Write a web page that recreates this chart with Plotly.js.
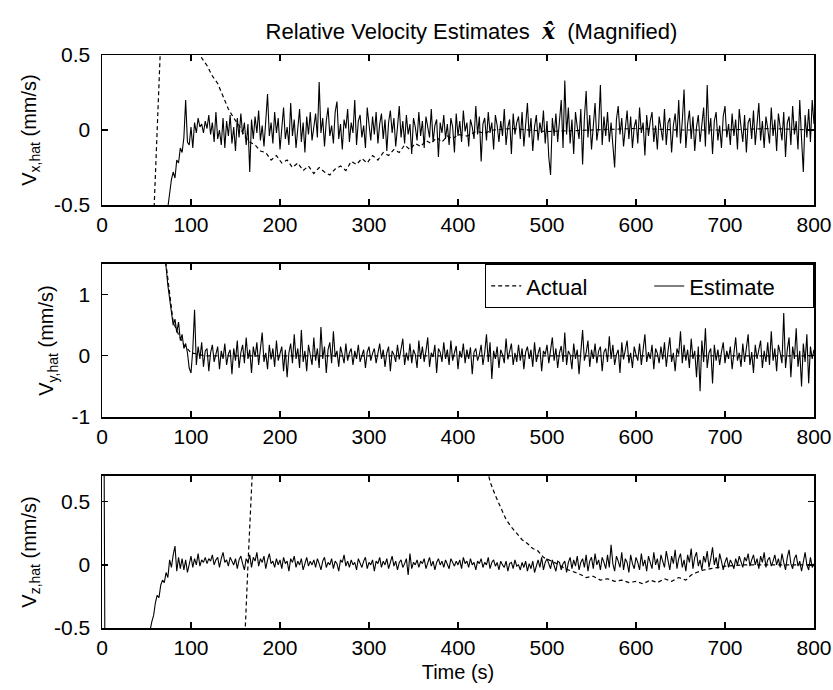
<!DOCTYPE html>
<html>
<head>
<meta charset="utf-8">
<script src="https://cdn.plot.ly/plotly-3.0.1.min.js"></script>
<style>html,body{margin:0;padding:0;background:#fff;}#chart{width:833px;height:690px;}</style>
</head>
<body>
<div id="chart"></div>
<script>
// ---------- data ----------
const timeTicks = [0, 100, 200, 300, 400, 500, 600, 700, 800];
const sampleStep = 2; // seconds between estimate samples

// Panel 1: V_x,hat
const actXTime = [0,40,56,58,60,62,64,66,70,90,108,112,118,124,130,136,142,148,154,160,166,172,178,184,190,196,202,208,214,220,226,232,238,244,250,256,262,268,274,280,286,292,298,304,310,316,322,328,334,340,346,352,358,364,370,376,382,388,394,400,410,420,430,440,460,500,550,600,650,700,750,800];
const actX = [-3,-2,-1.2,-0.6,-0.3,0.0,0.35,0.6,1.0,1.2,0.6,0.48,0.43,0.36,0.31,0.22,0.14,0.08,0.03,-0.04,-0.08,-0.1,-0.14,-0.15,-0.2,-0.17,-0.22,-0.2,-0.25,-0.22,-0.27,-0.24,-0.29,-0.25,-0.28,-0.3,-0.26,-0.24,-0.27,-0.21,-0.23,-0.19,-0.22,-0.17,-0.2,-0.15,-0.17,-0.13,-0.15,-0.1,-0.13,-0.09,-0.11,-0.07,-0.09,-0.05,-0.08,-0.04,-0.06,-0.03,-0.04,-0.01,-0.02,0.0,0.01,-0.01,0.0,0.01,0.0,0.0,0.01,0.0];
const estXStart = 70;
const estX = [
-0.70,-0.60,-0.52,-0.42,-0.33,-0.28,-0.32,-0.20,-0.22,-0.12,-0.15,-0.05,0.20,-0.08,-0.10,0.02,-0.12,0.05,-0.02,0.08,
0.02,0.04,-0.02,0.06,0.01,0.10,-0.03,0.05,-0.08,0.12,-0.06,0.00,-0.10,0.08,-0.12,0.06,-0.04,0.10,-0.09,0.02,
-0.14,0.08,-0.05,0.11,-0.03,0.05,-0.10,0.04,-0.28,0.07,-0.06,0.09,-0.02,0.13,-0.07,0.03,-0.11,0.06,0.24,-0.04,
0.05,-0.09,0.12,-0.02,0.08,-0.13,0.04,0.15,-0.06,0.02,-0.10,0.18,-0.04,0.07,-0.12,0.01,0.14,-0.08,0.05,-0.15,
0.09,-0.03,0.12,-0.07,0.04,0.11,-0.05,0.32,-0.02,0.08,-0.11,0.06,0.15,-0.04,0.03,-0.09,0.12,0.19,-0.06,0.04,
-0.13,0.07,0.01,0.14,-0.08,0.05,-0.02,0.20,-0.10,0.06,0.10,-0.05,0.03,-0.12,0.15,0.02,-0.07,0.09,-0.03,0.12,
-0.09,0.04,0.11,-0.06,0.07,-0.14,0.05,0.13,-0.02,0.08,-0.11,0.02,0.16,-0.05,0.06,-0.09,0.10,-0.03,0.04,-0.16,
0.08,0.02,-0.07,0.12,-0.04,0.06,-0.12,0.09,0.01,-0.05,0.14,-0.08,0.03,0.07,-0.18,0.05,-0.02,0.10,-0.06,0.04,
-0.10,0.08,0.02,-0.15,0.11,-0.04,0.06,-0.08,0.13,-0.01,0.05,-0.11,0.07,0.02,-0.06,0.16,-0.03,0.09,-0.21,0.04,
0.08,-0.07,0.12,-0.02,0.05,-0.13,0.10,0.03,-0.08,0.06,-0.04,0.14,-0.10,0.02,0.07,-0.16,0.11,-0.03,0.05,0.09,
-0.06,0.12,-0.11,0.04,0.18,-0.05,0.08,-0.14,0.02,0.10,-0.07,0.05,-0.02,0.13,-0.09,0.06,-0.18,-0.30,0.08,-0.04,
0.11,-0.08,0.05,0.20,-0.12,0.33,-0.03,0.15,-0.09,0.07,-0.16,0.12,0.02,-0.06,0.14,-0.23,0.08,0.26,-0.05,0.10,
-0.13,0.06,0.18,-0.07,0.02,0.30,-0.10,0.09,-0.04,0.12,-0.08,0.05,-0.14,-0.25,0.07,0.16,-0.03,0.08,-0.11,0.04,
0.13,-0.06,0.09,-0.12,0.02,0.07,-0.09,0.15,-0.02,0.05,-0.17,0.10,-0.04,0.06,0.12,-0.08,0.03,-0.13,0.09,0.01,
-0.07,0.14,-0.10,0.05,0.08,-0.15,0.03,0.11,-0.05,0.20,-0.09,0.06,0.27,-0.12,0.04,0.13,-0.06,0.09,-0.14,0.02,
0.10,-0.08,0.05,0.15,-0.11,0.30,-0.03,0.08,-0.16,0.06,0.12,-0.07,0.03,-0.12,0.09,0.16,-0.05,0.04,-0.10,0.11,
-0.04,0.07,-0.13,0.14,0.02,-0.08,0.10,-0.15,0.05,0.08,-0.06,0.13,-0.10,0.03,0.18,-0.07,0.06,-0.12,0.09,0.01,
-0.09,0.15,-0.04,0.07,-0.14,0.11,0.02,-0.07,0.12,-0.18,0.05,0.09,-0.10,0.16,-0.03,0.06,-0.13,0.20,-0.06,-0.28,
0.10,-0.05,0.14,-0.08,0.20,0.04];

// Panel 2: V_y,hat
const actYTime = [0,50,66,72,76,80,86,92,100,115,130,150,200,300,400,500,600,700,800];
const actY = [4,3,2.2,1.45,1.0,0.55,0.35,0.18,0.05,0.0,0.0,0.0,0.0,0.0,0.0,0.0,0.0,0.0,0.0];
const estYStart = 68;
const estY = [
1.90,1.70,1.45,1.15,0.95,0.75,0.50,0.60,0.38,0.55,0.25,0.35,0.12,0.20,0.05,-0.20,-0.28,0.10,0.75,-0.15,
0.15,-0.05,0.22,-0.18,0.08,0.12,-0.25,0.05,0.18,-0.10,0.02,0.15,-0.22,0.08,-0.05,0.20,-0.15,0.03,0.10,-0.30,
0.12,-0.08,0.25,-0.20,0.05,0.18,-0.12,0.30,-0.05,0.10,-0.28,0.15,-0.02,0.22,-0.15,0.08,0.38,-0.10,0.05,-0.22,
0.18,-0.06,0.12,-0.18,0.25,-0.08,0.02,0.15,-0.25,0.10,-0.35,0.05,0.20,-0.12,0.35,-0.05,0.12,-0.20,0.42,-0.10,
0.08,-0.25,0.18,0.02,-0.15,0.30,-0.08,0.12,-0.20,0.47,-0.05,0.15,-0.28,0.10,0.22,-0.12,0.40,-0.02,0.08,-0.18,
0.15,0.02,-0.12,0.20,-0.08,0.05,0.12,-0.15,0.08,-0.05,0.18,-0.10,0.02,0.10,-0.20,0.06,0.15,-0.08,0.04,0.12,
-0.12,0.08,0.20,-0.05,0.10,-0.18,0.05,0.15,-0.25,0.08,0.02,-0.10,0.18,-0.06,0.12,0.28,-0.15,0.05,-0.08,0.20,
-0.12,0.10,0.02,-0.20,0.25,-0.05,0.15,-0.10,0.08,0.30,-0.18,0.05,-0.02,0.18,-0.28,0.12,0.06,-0.10,0.22,-0.05,
0.10,-0.15,0.25,-0.08,0.05,0.16,-0.22,0.08,-0.03,0.20,-0.12,0.10,-0.05,0.14,-0.30,0.06,0.12,-0.08,0.02,0.18,
-0.15,0.05,0.35,-0.10,0.22,-0.38,0.08,-0.05,0.15,-0.20,0.10,0.02,-0.12,0.28,-0.06,0.08,0.20,-0.15,0.05,-0.10,
0.18,-0.08,0.12,-0.22,0.06,0.15,-0.05,0.10,-0.18,0.22,-0.10,0.04,0.14,-0.25,0.08,0.02,0.18,-0.12,0.06,0.30,
-0.08,0.12,-0.20,0.05,0.16,-0.10,0.38,-0.15,0.08,0.02,-0.22,0.20,-0.05,0.10,-0.30,0.15,0.42,-0.08,0.05,0.25,
-0.18,0.10,-0.05,0.20,-0.12,0.08,0.15,-0.25,0.06,0.12,-0.10,0.32,-0.05,0.18,-0.15,0.02,0.10,-0.28,0.22,-0.06,
0.08,0.25,-0.12,0.05,-0.20,0.15,0.02,-0.08,0.20,-0.15,0.10,0.35,-0.10,0.06,-0.05,0.18,-0.22,0.12,0.04,-0.12,
0.15,-0.06,0.22,-0.18,0.08,0.30,-0.10,0.05,-0.25,0.12,0.02,0.40,-0.12,0.18,-0.08,0.10,-0.20,0.28,-0.05,0.08,
-0.35,0.15,-0.58,0.25,-0.10,0.45,-0.20,0.05,0.12,-0.45,0.18,-0.08,0.10,-0.15,0.06,0.22,-0.12,0.08,-0.05,0.15,
-0.22,0.10,0.30,-0.08,0.05,-0.18,0.20,-0.10,0.12,0.35,-0.15,0.06,-0.28,0.18,-0.05,0.10,0.25,-0.20,0.08,-0.10,
0.22,-0.15,0.40,-0.08,0.12,-0.25,0.18,0.05,-0.12,0.70,-0.20,0.10,0.30,-0.35,0.15,-0.05,0.45,-0.18,0.08,-0.50,
0.20,-0.10,0.35,-0.45,0.15,-0.05,0.10];

// Panel 3: V_z,hat
const actZTime = [0,100,150,158,161,164,167,170,200,300,400,430,436,442,448,454,460,466,472,478,484,490,496,502,508,514,520,528,536,544,552,560,568,576,584,592,600,608,616,624,632,640,648,656,662,668,676,684,692,700,720,760,800];
const actZ = [-3,-2.5,-1.5,-0.8,-0.5,0.0,0.5,0.9,2.0,2.5,1.8,0.85,0.66,0.55,0.45,0.36,0.3,0.25,0.2,0.17,0.13,0.11,0.06,0.04,0.02,0.0,-0.03,-0.05,-0.07,-0.1,-0.09,-0.12,-0.11,-0.13,-0.12,-0.14,-0.13,-0.15,-0.12,-0.14,-0.11,-0.13,-0.1,-0.12,-0.08,-0.06,-0.04,-0.03,-0.02,-0.01,0.0,0.0,0.0];
const estZStart = 0;
const estZ = [
2.00,1.50,-2.00,-1.90,-1.80,-1.70,-1.62,-1.55,-1.48,-1.40,-1.33,-1.26,-1.20,-1.14,-1.08,-1.02,-0.97,-0.92,-0.88,-0.84,
-0.80,-0.76,-0.72,-0.68,-0.64,-0.60,-0.56,-0.52,-0.45,-0.40,-0.30,-0.24,-0.26,-0.16,-0.12,-0.14,-0.06,-0.10,0.04,-0.02,
0.08,0.15,-0.05,0.06,-0.03,0.05,-0.04,0.04,-0.06,0.02,0.07,-0.02,0.05,0.00,0.09,-0.01,0.04,0.02,0.06,0.01,
0.05,0.03,0.08,0.00,0.04,0.06,-0.02,0.05,0.10,0.02,0.04,-0.01,0.06,0.03,0.00,0.05,-0.03,0.04,0.07,0.01,
-0.04,0.05,0.02,0.08,-0.02,0.06,0.03,0.10,-0.01,0.05,0.02,0.07,-0.03,0.04,0.09,0.01,0.03,-0.02,0.05,0.00,
0.04,-0.03,0.06,0.01,0.03,-0.05,0.05,0.02,0.07,-0.02,0.03,0.00,0.05,-0.04,0.02,0.06,-0.01,0.03,0.00,0.04,
-0.02,0.05,0.01,-0.04,0.03,0.06,-0.02,0.02,0.00,0.05,-0.03,0.03,0.01,-0.05,0.04,0.02,0.08,-0.01,0.03,-0.02,
0.04,0.00,0.02,-0.04,0.05,0.01,-0.02,0.03,0.06,-0.03,0.02,0.00,0.04,-0.05,0.03,0.01,0.06,-0.02,0.03,0.00,
0.05,-0.03,0.02,0.07,-0.01,0.03,-0.04,0.02,0.04,-0.02,0.01,0.05,-0.08,0.09,-0.03,0.02,0.00,0.04,-0.02,0.03,
0.01,0.05,-0.03,0.02,0.06,-0.01,0.03,-0.04,0.02,0.05,0.00,0.03,-0.02,0.04,0.01,-0.03,0.05,0.02,-0.01,0.03,
0.00,0.04,-0.03,0.06,0.01,0.03,-0.02,0.05,0.00,0.02,-0.04,0.03,0.01,0.05,-0.02,0.02,0.00,0.06,-0.03,0.02,
0.04,-0.01,0.02,-0.04,0.03,0.00,-0.02,0.03,-0.05,0.01,0.02,-0.03,0.04,-0.01,0.00,-0.04,0.02,-0.02,0.03,-0.05,
0.01,-0.03,0.03,-0.06,0.00,0.04,-0.02,0.06,-0.04,0.02,0.05,0.01,-0.03,0.04,0.00,-0.05,0.03,0.02,-0.04,0.01,
0.03,-0.06,0.02,0.06,-0.03,0.04,-0.01,0.07,-0.04,0.02,0.05,-0.02,0.08,-0.05,0.03,0.06,-0.03,0.09,0.00,0.04,
-0.04,0.06,0.02,-0.03,0.08,-0.02,0.16,0.01,-0.05,0.07,0.03,-0.02,0.10,-0.04,0.05,0.02,-0.06,0.08,0.01,-0.03,
0.06,0.02,-0.04,0.09,-0.01,0.04,-0.05,0.07,0.02,-0.03,0.10,0.00,0.05,-0.04,0.08,0.02,-0.02,0.11,0.03,-0.04,
0.07,0.01,0.12,-0.03,0.05,0.09,-0.02,0.04,-0.05,0.08,0.02,0.13,-0.03,0.06,0.10,-0.01,0.04,-0.04,0.07,0.02,
0.11,-0.02,0.05,0.14,0.00,0.06,-0.03,0.09,0.03,-0.04,0.02,0.06,-0.02,0.04,0.01,-0.03,0.05,0.00,0.07,0.02,
-0.02,0.06,0.03,0.09,-0.01,0.04,0.08,0.00,0.05,-0.03,0.07,0.02,0.10,-0.02,0.04,0.06,-0.01,0.03,0.08,0.00,
0.05,-0.02,0.09,0.02,-0.04,0.06,0.12,0.01,-0.03,0.05,0.08,-0.01,0.03,-0.05,0.04,0.10,0.00,-0.04,0.06,-0.02,
0.01];

// ---------- drawing ----------
function sampleTimes(start, n) {
  return Array.from({length: n}, (_, i) => start + sampleStep * i);
}

const FONT = '"Liberation Sans", Arial, Helvetica, sans-serif';
const actualLine = {color: '#000', width: 1.2, dash: '4px,3px'};
const estimateLine = {color: '#000', width: 1.1};

const traces = [
  {x: actXTime, y: actX, xaxis: 'x', yaxis: 'y', mode: 'lines', name: 'Actual', line: actualLine, showlegend: false, hoverinfo: 'skip'},
  {x: sampleTimes(estXStart, estX.length), y: estX, xaxis: 'x', yaxis: 'y', mode: 'lines', name: 'Estimate', line: estimateLine, showlegend: false, hoverinfo: 'skip'},
  {x: actYTime, y: actY, xaxis: 'x2', yaxis: 'y2', mode: 'lines', name: 'Actual', line: actualLine, showlegend: true, hoverinfo: 'skip'},
  {x: sampleTimes(estYStart, estY.length), y: estY, xaxis: 'x2', yaxis: 'y2', mode: 'lines', name: 'Estimate', line: estimateLine, showlegend: true, hoverinfo: 'skip'},
  {x: actZTime, y: actZ, xaxis: 'x3', yaxis: 'y3', mode: 'lines', name: 'Actual', line: actualLine, showlegend: false, hoverinfo: 'skip'},
  {x: sampleTimes(estZStart, estZ.length), y: estZ, xaxis: 'x3', yaxis: 'y3', mode: 'lines', name: 'Estimate', line: estimateLine, showlegend: false, hoverinfo: 'skip'}
];

function xAx(anchor, withTitle) {
  const a = {
    anchor: anchor, domain: [0, 1], range: [0, 800],
    tickmode: 'array', tickvals: timeTicks, ticktext: timeTicks.map(String),
    ticks: 'inside', ticklen: 6, tickwidth: 1.2, tickcolor: '#000',
    showline: true, linecolor: '#000', linewidth: 1.5, mirror: 'ticks',
    showgrid: false, zeroline: false, ticklabelstandoff: 0,
    tickfont: {family: FONT, size: 21, color: '#000'}
  };
  if (withTitle) a.title = {text: 'Time (s)', font: {family: FONT, size: 20, color: '#000'}, standoff: 7};
  return a;
}
function yAx(anchor, domain, range, vals, title) {
  return {
    anchor: anchor, domain: domain, range: range,
    tickmode: 'array', tickvals: vals, ticktext: vals.map(String),
    ticks: 'inside', ticklen: 6, tickwidth: 1.2, tickcolor: '#000',
    showline: true, linecolor: '#000', linewidth: 1.5, mirror: 'ticks',
    showgrid: false, zeroline: false, ticklabelstandoff: 6,
    tickfont: {family: FONT, size: 21, color: '#000'},
    title: {text: title, font: {family: FONT, size: 20, color: '#000'}, standoff: 12}
  };
}

const layout = {
  width: 833, height: 690,
  margin: {l: 102, r: 19, t: 55, b: 62},
  paper_bgcolor: '#fff', plot_bgcolor: '#fff',
  font: {family: FONT, color: '#000'},
  title: {
    text: 'Relative Velocity Estimates\u00A0\u00A0<b><i><span style="font-family:\'DejaVu Serif\'">x\u0302\u0307</span></i></b>\u00A0\u00A0(Magnified)',
    font: {family: FONT, size: 22, color: '#000'},
    x: 0.566, xref: 'container', xanchor: 'center',
    y: 0.955, yref: 'container', yanchor: 'middle'
  },
  xaxis: xAx('y', false),
  xaxis2: xAx('y2', false),
  xaxis3: xAx('y3', true),
  yaxis: yAx('x', [0.7382, 1], [-0.5, 0.5], [-0.5, 0, 0.5], 'V<sub>x,hat</sub> (mm/s)'),
  yaxis2: yAx('x2', [0.3682, 0.6353], [-1, 1.5], [-1, 0, 1], 'V<sub>y,hat</sub> (mm/s)'),
  yaxis3: yAx('x3', [0, 0.2653], [-0.5, 0.705], [-0.5, 0, 0.5], 'V<sub>z,hat</sub> (mm/s)'),
  showlegend: true,
  legend: {
    orientation: 'h', x: 1, xanchor: 'right', xref: 'paper',
    y: 0.6353, yanchor: 'top', yref: 'paper',
    bgcolor: '#fff', bordercolor: '#000', borderwidth: 1.2,
    font: {family: FONT, size: 22, color: '#000'},
    traceorder: 'normal', entrywidth: 118, itemwidth: 30
  }
};

Plotly.newPlot('chart', traces, layout, {staticPlot: true, displayModeBar: false});
</script>
</body>
</html>
